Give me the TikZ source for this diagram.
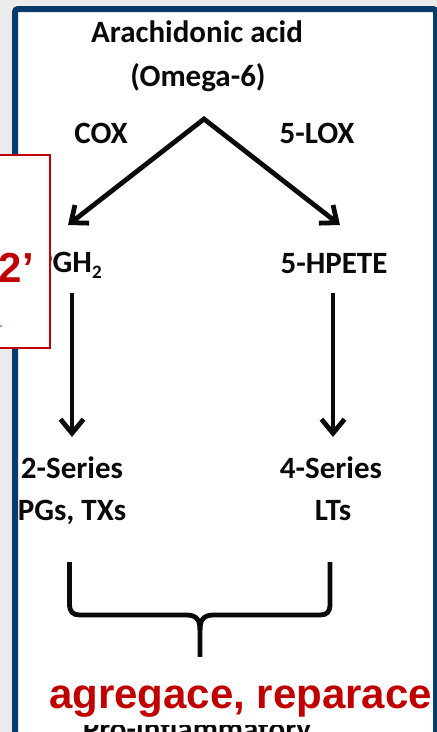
\documentclass[tikz,border=0pt]{standalone}
\usepackage{fontspec}
\setmainfont{Carlito}
\newfontfamily\alertfamily{Liberation Sans}
\usetikzlibrary{arrows.meta}
\definecolor{navy}{RGB}{8,58,110}
\definecolor{slidegray}{RGB}{236,236,236}
\definecolor{accentred}{RGB}{192,0,0}
\definecolor{ink}{RGB}{10,10,10}

\begin{document}
\begin{tikzpicture}[x=1pt,y=-1pt,
  lbl/.style={font=\fontsize{31}{31}\selectfont\bfseries, text=ink, inner sep=0pt, anchor=base},
  barb/.tip={Straight Barb[length=14pt,width=23pt]},
  flow/.style={line width=4.8pt, ink, -barb},
  bracepath/.style={line width=4.8pt, ink, line join=round},
  alert/.style={font=\alertfamily\bfseries\fontsize{42}{42}\selectfont, text=accentred, inner sep=0pt, anchor=base}]

\useasboundingbox (0,0) rectangle (437,732);
% slide background and framed panel
\fill[slidegray] (0,0) rectangle (437,732);
\draw[navy, line width=6pt, fill=white, rounded corners=3pt] (15,9) rectangle (436,760);

% labels
\node[lbl] (arach) at (197,42) {Arachidonic acid};
\node[lbl] (omega) at (198,86) {(Omega-6)};
\node[lbl] (cox) at (101,143) {COX};
\node[lbl] (lox) at (317,143) {5-LOX};
\node[lbl, anchor=base west] (pgh) at (36,272) {PGH\raisebox{-6pt}{\fontsize{19}{19}\selectfont 2}};
\node[lbl] (hpete) at (334,273) {5-HPETE};
\node[lbl] (ser2) at (72,478) {2-Series};
\node[lbl] (pgs) at (72,520) {PGs, TXs};
\node[lbl] (ser4) at (331,478) {4-Series};
\node[lbl] (lts) at (333,520) {LTs};
\node[lbl] (proinfl) at (197,739) {Pro-inflammatory};

% connector end points
\coordinate (apex) at (204,119);
\coordinate (coxend) at (68,225);
\coordinate (loxend) at (340,225);
\coordinate (pghtail) at (72,293);
\coordinate (ser2tip) at (72,437);
\coordinate (hpetetail) at (333,293);
\coordinate (ser4tip) at (333,437);
\coordinate (braceL) at (69.5,562);
\coordinate (braceR) at (330,562);
\coordinate (braceTip) at (200,662);

% arrows
\draw[line width=4.8pt, ink, barb-barb] (coxend) -- (apex) -- (loxend);
\draw[flow] (pghtail) -- (ser2tip);
\draw[flow] (hpetetail) -- (ser4tip);

% curly brace
\draw[bracepath] (braceL) -- (69.5,604) .. controls (69.5,612) and (73,615) .. (80,615)
  -- (186,615) .. controls (196,615) and (200,619) .. (200,630) -- (braceTip);
\draw[bracepath] (braceR) -- (330,604) .. controls (330,612) and (327,615) .. (320,615)
  -- (214,615) .. controls (204,615) and (200,619) .. (200,630);

% overlay note
\fill[white] (24,657) rectangle (433,725);
\node[alert] (note) at (240.5,708) {agregace, reparace};

% side callout box
\draw[accentred, line width=1.5pt, fill=white] (-5,155) rectangle (50,348);
\node[alert, anchor=base west] (two) at (-1.5,282) {2’};
\fill[accentred] (1,326) circle (0.8);
\end{tikzpicture}
\end{document}
